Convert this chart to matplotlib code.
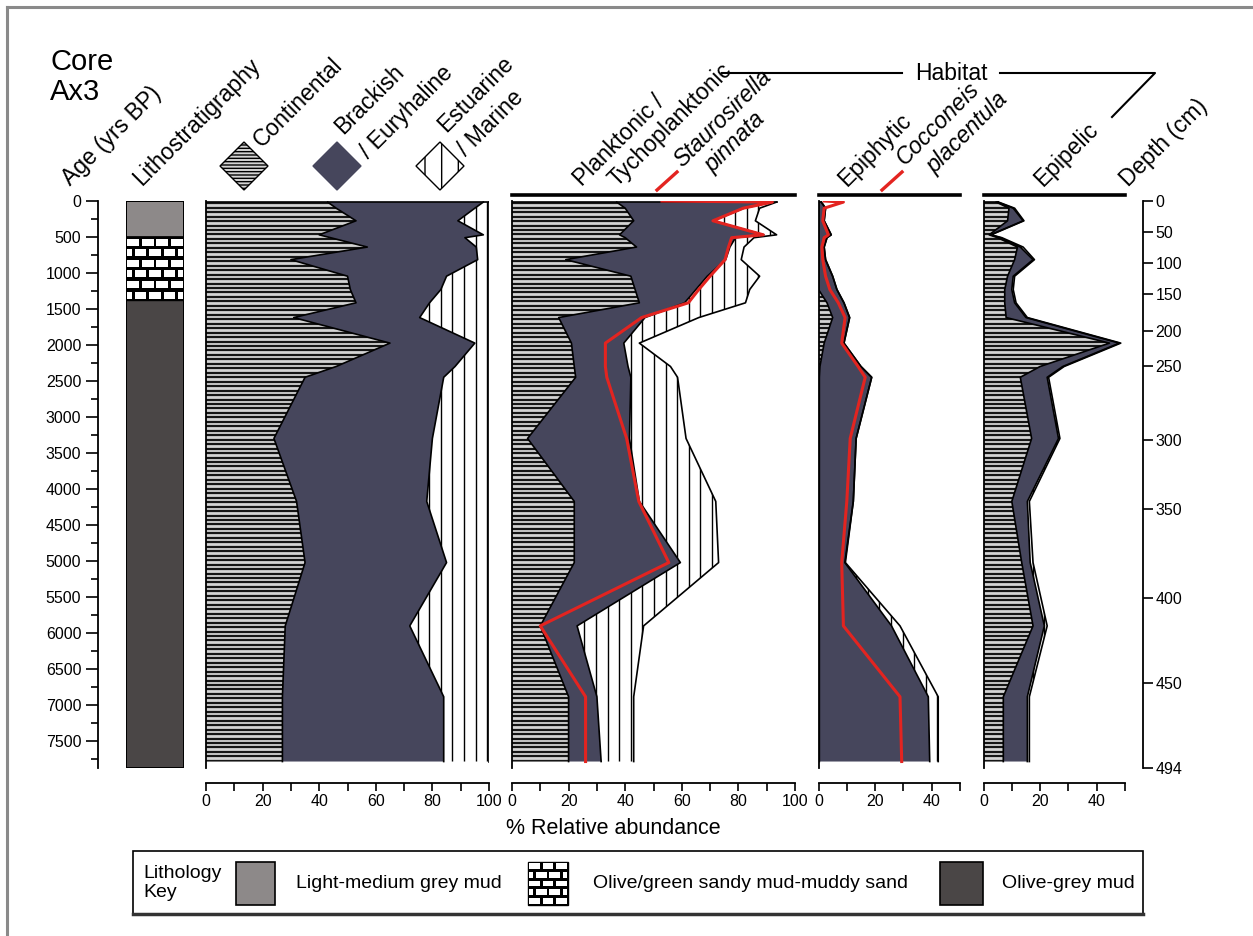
import numpy as np
import matplotlib
matplotlib.use("Agg")
import matplotlib.pyplot as plt
from matplotlib.patches import Polygon, Rectangle
from matplotlib.ticker import MultipleLocator

W, H = 1253, 936
AGE_MAX = 7880

# ---- values ----
ages = np.array([15, 100, 275, 470, 510, 640, 815, 1045, 1230, 1415, 1620,
                 1975, 2300, 2450, 3300, 4175, 5025, 5905, 6890, 7790])

# salinity groups (% of total)
sal_cont = [43, 46, 53, 40, 44, 57, 30, 50, 51, 53, 31, 65, 46, 35, 24, 32, 35, 28, 27, 27]
sal_brack = [55, 49, 36, 58, 47.5, 38.5, 66, 35, 32, 26, 44.5, 30, 42, 49, 56, 46, 50, 44, 57, 57]
sal_marine = [2, 5, 11, 2, 8.5, 4.5, 4, 15, 17, 21, 24.5, 5, 12, 16, 20, 22, 15, 28, 16, 16]

# planktonic / tychoplanktonic split by salinity group
plank_cont = [37, 40, 43, 38, 40, 44, 19, 42, 43.5, 45, 16.5, 21, 22, 22.5, 5.5, 22, 22, 10, 20, 20]
plank_brack = [55, 42, 28, 51, 39, 33, 56.5, 27, 21.5, 16, 30.5, 18.5, 19, 19.5, 36, 23, 37.5, 13, 10, 11.5]
plank_marine = [1.5, 5.5, 15, 4.5, 6.5, 5, 5.5, 18.5, 19, 21.5, 19, 5.5, 15, 16.5, 20, 27, 13.5, 23.5, 13, 11.5]

# epiphytic
epiph_cont = [0, 0, 0, 0, 0, 0, 0, 0, 0, 3, 5, 2, 0.5, 0.3, 0.3, 0.3, 0.3, 0.3, 0.3, 0.3]
epiph_brack = [1, 2.5, 2, 4.5, 3, 2, 2.5, 5, 6.5, 6, 6, 7, 14.5, 18.5, 13, 12, 9, 25.5, 38.5, 39]
epiph_marine = [0, 0, 0, 0, 0, 0, 0, 0, 0, 0, 0, 0, 0, 0, 0, 0, 0.2, 3, 3.5, 3]

# epipelic
epipel_cont = [4.5, 9, 8.5, 2, 5, 12, 11, 8.5, 7.5, 7.5, 8, 44.5, 20, 13, 17, 10, 13.5, 17.5, 7, 7]
epipel_brack = [0.5, 1.5, 5.5, 0.5, 1, 1, 6.5, 2, 2.5, 3.5, 7, 3.5, 8, 9.5, 9.5, 5.5, 3, 4, 8.5, 8.5]
epipel_marine = [0.3, 0.5, 0.3, 0.2, 0.5, 1, 0.5, 0.5, 0.5, 0.5, 0.5, 0.5, 0.5, 0.5, 0.5, 0.7, 1, 1, 0.7, 0.7]

# single taxa (red curves), first point is the core top
red_ages = np.concatenate([[0], ages])
pinnata = [53, 92, 81.7, 71, 88.8, 77.6, 76.5, 75.3, 70, 66, 62.3, 45.8, 33, 33, 33.5,
           40.5, 44.8, 55.4, 10, 26, 26]
placentula = [2, 8.8, 2, 1.5, 3.5, 2, 1.2, 1.5, 2.5, 4, 7, 9.4, 8.2, 14, 16.5, 11.2,
              10, 8.2, 8.8, 28.8, 29.4]

# age-depth model for the right-hand axis
depth_cm = [0, 50, 100, 150, 200, 250, 300, 350, 400, 450, 494]
depth_age = [0, 425, 855, 1295, 1800, 2300, 3325, 4280, 5520, 6700, 7880]

# lithology units
litho_top = [0, 500, 1380]
litho_base = [500, 1380, 7880]
litho_names = ["Light-medium grey mud", "Olive/green sandy mud-muddy sand", "Olive-grey mud"]

# ---- style ----
plt.rcParams['font.family'] = ['Liberation Sans', 'DejaVu Sans']
plt.rcParams['axes.linewidth'] = 1.3

NAVY = '#46465c'
RED = '#e32420'
LIGHT_GREY = '#8d8989'
DARK_GREY = '#4a4646'

fig = plt.figure(figsize=(W / 100, H / 100), dpi=100)


def px_axes(x0, y0, x1, y1):
    return fig.add_axes([x0 / W, 1 - y1 / H, (x1 - x0) / W, (y1 - y0) / H])


def bricks(ax, x0, x1, y0, y1, nrows, ncols, z=2):
    ax.add_patch(Rectangle((x0, y0), x1 - x0, y1 - y0, facecolor='k', edgecolor='k', lw=1, zorder=z))
    rh = (y1 - y0) / nrows
    bw = (x1 - x0) / ncols
    gx, gy = 0.09 * bw, 0.17 * rh
    for r in range(nrows):
        off = 0 if r % 2 == 0 else bw / 2
        for xa in np.arange(x0 - off, x1, bw):
            xl, xr = max(xa + gx, x0 + gx), min(xa + bw - gx, x1 - gx)
            if xr - xl > gx:
                ax.add_patch(Rectangle((xl, y0 + r * rh + gy), xr - xl, rh - 2 * gy,
                                       facecolor='white', edgecolor='none', zorder=z + 0.1))


def clip_lines(ax, coll, orient, step, lw, color):
    if orient == 'h':
        lines = ax.hlines(np.arange(step / 2, AGE_MAX, step), 0, 100, colors=color, lw=lw)
    else:
        lines = ax.vlines(np.arange(1, 100, step), 0, AGE_MAX, colors=color, lw=lw)
    lines.set_clip_path(coll.get_paths()[0], ax.transData)


def stack_panel(ax, cont, brack, marine):
    c1 = np.array(cont, dtype=float)
    c2 = c1 + brack
    c3 = c2 + marine
    p1 = ax.fill_betweenx(ages, 0, c1, facecolor='#d4d4d4', edgecolor='none')
    clip_lines(ax, p1, 'h', 62, 1.6, '#151515')
    ax.fill_betweenx(ages, c1, c2, facecolor=NAVY, edgecolor='none')
    p3 = ax.fill_betweenx(ages, c2, c3, facecolor='white', edgecolor='none')
    clip_lines(ax, p3, 'v', 4.1, 1.0, 'k')
    for c in (c1, c2, c3):
        ax.plot(c, ages, color='k', lw=1.2)
    ax.plot([0, c3[0]], [ages[0], ages[0]], color='k', lw=1.2)


def style_panel(ax, xmax, top_bar=True):
    ax.set_xlim(0, xmax)
    ax.set_ylim(AGE_MAX, 0)
    ax.patch.set_alpha(0)
    ax.spines['right'].set_visible(False)
    ax.spines['top'].set_visible(top_bar)
    if top_bar:
        ax.spines['top'].set_position(('outward', 4))
        ax.spines['top'].set_linewidth(2.6)
    ax.spines['bottom'].set_position(('outward', 11))
    ax.set_yticks([])
    ax.xaxis.set_major_locator(MultipleLocator(20))
    ax.xaxis.set_minor_locator(MultipleLocator(10))
    ax.tick_params(axis='x', which='both', direction='out', length=6, width=1.2,
                   labelsize=11.5, pad=1.5, top=False)


# ---- age axis ----
ax_age = px_axes(98, 201, 99, 768)
ax_age.set_ylim(AGE_MAX, 0)
ax_age.set_xticks([])
for s in ['right', 'top', 'bottom']:
    ax_age.spines[s].set_visible(False)
ax_age.yaxis.set_major_locator(MultipleLocator(500))
ax_age.yaxis.set_minor_locator(MultipleLocator(250))
ax_age.tick_params(axis='y', which='major', length=9, width=1.2, labelsize=11.5, pad=3)
ax_age.tick_params(axis='y', which='minor', length=5, width=1.2)

# ---- lithology column ----
ax_l = px_axes(126, 201, 184, 768)
ax_l.set_xlim(0, 1)
ax_l.set_ylim(AGE_MAX, 0)
ax_l.axis('off')
ax_l.bar(0.5, litho_base[0] - litho_top[0], bottom=litho_top[0], width=1,
         color=LIGHT_GREY, edgecolor='k', lw=1.2)
bricks(ax_l, 0, 1, litho_top[1], litho_base[1], 6, 4)
ax_l.bar(0.5, litho_base[2] - litho_top[2], bottom=litho_top[2], width=1,
         color=DARK_GREY, edgecolor='k', lw=1.2)
ax_l.add_patch(Rectangle((0, 0), 1, AGE_MAX, fill=False, edgecolor='k', lw=1.4))

# ---- diatom panels ----
ax1 = px_axes(206, 201, 489, 768)
stack_panel(ax1, sal_cont, sal_brack, sal_marine)
style_panel(ax1, 100, top_bar=False)

ax2 = px_axes(512, 201, 795, 768)
stack_panel(ax2, plank_cont, plank_brack, plank_marine)
ax2.plot(pinnata, red_ages, color=RED, lw=2.2, zorder=5)
style_panel(ax2, 100)

ax3 = px_axes(818.5, 201, 960, 768)
stack_panel(ax3, epiph_cont, epiph_brack, epiph_marine)
ax3.plot(placentula, red_ages, color=RED, lw=2.2, zorder=5)
style_panel(ax3, 50)

ax4 = px_axes(983.5, 201, 1125, 768)
stack_panel(ax4, epipel_cont, epipel_brack, epipel_marine)
style_panel(ax4, 50)

# ---- depth axis ----
ax_d = px_axes(1142, 201, 1143, 768)
ax_d.set_ylim(AGE_MAX, 0)
ax_d.set_xticks([])
for s in ['left', 'top', 'bottom']:
    ax_d.spines[s].set_visible(False)
ax_d.yaxis.tick_right()
ax_d.set_yticks(depth_age)
ax_d.set_yticklabels([str(d) for d in depth_cm])
ax_d.tick_params(axis='y', length=7, width=1.2, labelsize=11.5, pad=2)

# ---- overlay for headers and framing ----
ov = fig.add_axes([0, 0, 1, 1])
ov.set_xlim(0, W)
ov.set_ylim(H, 0)
ov.axis('off')

ov.plot([7, 7], [7, H], color='#8a8a8a', lw=2.2)
ov.plot([7, W], [7, 7], color='#8a8a8a', lw=2.2)

ov.text(50, 48, "Core\nAx3", fontsize=21, ha='left', va='top', linespacing=1.1)

hdr = dict(rotation=45, rotation_mode='anchor', ha='left', va='baseline', fontsize=16.5)
ov.text(70, 186, "Age (yrs BP)", **hdr)
ov.text(142, 186, "Lithostratigraphy", **hdr)
ov.text(262, 148, "Continental", **hdr)
ov.text(343, 135, "Brackish", **hdr)
ov.text(368, 159, "/ Euryhaline", **hdr)
ov.text(446, 133, "Estuarine", **hdr)
ov.text(466, 157, "/ Marine", **hdr)
ov.text(582, 187, "Planktonic /", **hdr)
ov.text(617, 187, "Tychoplanktonic", **hdr)
ov.text(682, 168, "Staurosirella", style='italic', **hdr)
ov.text(713, 173, "pinnata", style='italic', **hdr)
ov.text(847, 187, "Epiphytic", **hdr)
ov.text(905, 166, "Cocconeis", style='italic', **hdr)
ov.text(935, 174, "placentula", style='italic', **hdr)
ov.text(1043, 187, "Epipelic", **hdr)
ov.text(1128, 187, "Depth (cm)", **hdr)

ov.plot([657, 677], [190, 172], color=RED, lw=2.4)
ov.plot([882, 902], [190, 172], color=RED, lw=2.4)

ov.text(951, 74, "Habitat", fontsize=16.5, ha='center', va='center')
ov.plot([722, 902], [73, 73], color='k', lw=1.5)
ov.plot([1000, 1155, 1112], [73, 73, 117], color='k', lw=1.5)


# header key diamonds
def diamond(cx, cy, r=24, **kw):
    ov.add_patch(Polygon([[cx - r, cy], [cx, cy - r], [cx + r, cy], [cx, cy + r]],
                         closed=True, **kw))


diamond(244, 166, facecolor='#d4d4d4', edgecolor='k', hatch='-----', lw=1.0)
diamond(337, 166, facecolor=NAVY, edgecolor=NAVY, lw=1.0)
diamond(440, 166, facecolor='white', edgecolor='k', hatch='|', lw=1.0)

ov.text(613, 828, "% Relative abundance", fontsize=15.5, ha='center', va='center')

# ---- lithology key ----
ov.add_patch(Rectangle((133, 851), 1010, 64, fill=False, edgecolor='k', lw=1.2))
ov.plot([133, 1143], [914, 914], color='#333333', lw=2.5)
ov.text(143, 883, "Lithology\nKey", fontsize=14, ha='left', va='center', linespacing=1.15)
ov.add_patch(Rectangle((236, 862), 39, 43, facecolor=LIGHT_GREY, edgecolor='k', lw=1.2))
ov.text(296, 884, litho_names[0], fontsize=14, ha='left', va='center')
bricks(ov, 528, 568, 862, 905, 5, 3)
ov.text(593, 884, litho_names[1], fontsize=14, ha='left', va='center')
ov.add_patch(Rectangle((940, 862), 43, 43, facecolor=DARK_GREY, edgecolor='k', lw=1.2))
ov.text(1002, 884, litho_names[2], fontsize=14, ha='left', va='center')

fig.savefig("out.png", dpi=100)
